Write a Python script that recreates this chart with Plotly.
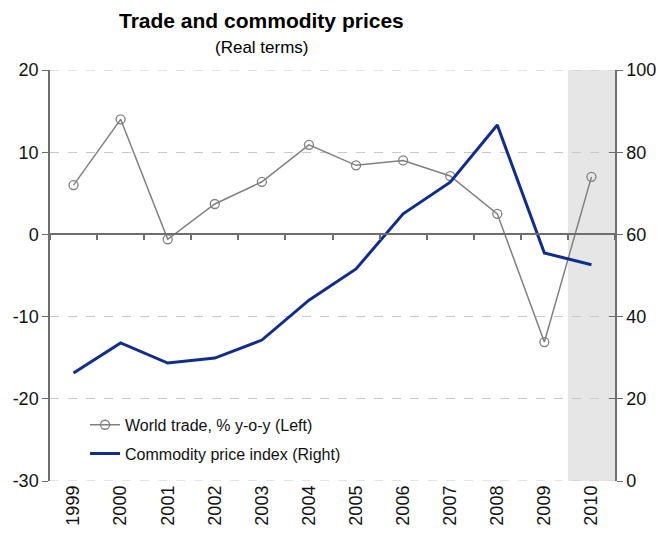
import plotly.graph_objects as go

years = ["1999", "2000", "2001", "2002", "2003", "2004", "2005", "2006", "2007", "2008", "2009", "2010"]
world_trade = [6.0, 14.0, -0.6, 3.7, 6.4, 10.9, 8.4, 9.0, 7.1, 2.5, -13.1, 7.0]
commodity_index = [26.3, 33.6, 28.7, 29.9, 34.3, 44.0, 51.6, 65.0, 72.7, 86.6, 55.5, 52.6]
left_ticks = [-30, -20, -10, 0, 10, 20]
right_ticks = [0, 20, 40, 60, 80, 100]
shaded_year = "2010"

FONT = "Liberation Sans"
AXC = "#6e6e6e"
GRID = "#c8c8c8"

fig = go.Figure()
fig.add_trace(go.Scatter(
    x=years, y=world_trade, name="World trade, % y-o-y (Left)",
    mode="lines+markers", legendgroup="a",
    line=dict(color="#808080", width=1.5),
    marker=dict(symbol="circle-open", size=9, color="#808080", line=dict(width=1.3)),
    yaxis="y", xaxis="x",
))
fig.add_trace(go.Scatter(
    x=years, y=commodity_index, name="Commodity price index (Right)",
    mode="lines", legendgroup="b",
    line=dict(color="#112d8c", width=3),
    yaxis="y2", xaxis="x",
))

idx = years.index(shaded_year)
fig.add_shape(type="rect", xref="x", yref="paper", x0=idx - 0.5, x1=idx + 0.5, y0=0, y1=1,
              fillcolor="#e6e6e6", line=dict(width=0), layer="below")
# edge gridlines (top and bottom of the left scale)
for v in (left_ticks[0], left_ticks[-1]):
    fig.add_shape(type="line", xref="paper", yref="y", x0=0, x1=1, y0=v, y1=v,
                  line=dict(color=GRID, width=1, dash="dash"), layer="above")

# page body has an 8px default margin, compensate in figure margins
fig.update_layout(
    width=667, height=548,
    margin=dict(l=42, r=60, t=62, b=75, autoexpand=False),
    paper_bgcolor="white", plot_bgcolor="white",
    font=dict(family=FONT, size=18, color="#111111"),
    showlegend=True,
    legend=dict(x=0.062, y=0.178, xanchor="left", yanchor="top",
                bgcolor="rgba(0,0,0,0)", font=dict(size=16, family=FONT),
                tracegroupgap=5, itemwidth=30),
    xaxis=dict(type="category", categoryorder="array", categoryarray=years,
               tickangle=-90, showgrid=False, showline=False, ticks="", automargin=False,
               range=[-0.5, len(years) - 0.5], tickfont=dict(size=18)),
    xaxis2=dict(type="category", categoryorder="array", categoryarray=years,
                overlaying="x", anchor="free", position=0.6, side="bottom",
                showline=True, linecolor=AXC, linewidth=2, automargin=False,
                ticks="outside", tickson="boundaries", ticklen=5, tickcolor=AXC, tickwidth=1.5,
                showticklabels=False, showgrid=False, range=[-0.5, len(years) - 0.5]),
    yaxis=dict(range=[-30, 20], tickvals=left_ticks, ticktext=[str(v) for v in left_ticks],
               showgrid=True, gridcolor=GRID,
               griddash="dash", gridwidth=1, zeroline=False, automargin=False,
               showline=True, linecolor=AXC, linewidth=1.5, ticks="outside", ticklen=6,
               tickcolor=AXC, tickfont=dict(size=18)),
    yaxis2=dict(range=[0, 100], tickvals=right_ticks, ticktext=[str(v) for v in right_ticks],
                overlaying="y", side="right",
                showgrid=False, zeroline=False, showline=True, linecolor=AXC, linewidth=1.5,
                automargin=False,
                ticks="outside", ticklen=6, tickcolor=AXC, tickfont=dict(size=18)),
    yaxis3=dict(range=[0, 100], tickvals=right_ticks, overlaying="y", side="right",
                showgrid=False, zeroline=False, showline=False, showticklabels=False,
                automargin=False, ticks="inside", ticklen=6, tickcolor=AXC),
    annotations=[
        dict(text="<b>Trade and commodity prices</b>", xref="paper", yref="paper",
             x=0.375, y=1.0, yshift=50, xanchor="center", yanchor="middle", showarrow=False,
             font=dict(size=21, family=FONT, color="#000000")),
        dict(text="(Real terms)", xref="paper", yref="paper",
             x=0.375, y=1.0, yshift=23, xanchor="center", yanchor="middle", showarrow=False,
             font=dict(size=17, family=FONT, color="#000000")),
    ],
)
fig.add_trace(go.Scatter(x=years, y=[None] * len(years), xaxis="x2", yaxis="y",
                         showlegend=False, hoverinfo="skip"))
fig.add_trace(go.Scatter(x=years, y=[None] * len(years), xaxis="x", yaxis="y3",
                         showlegend=False, hoverinfo="skip"))

fig.write_html("out.html")
